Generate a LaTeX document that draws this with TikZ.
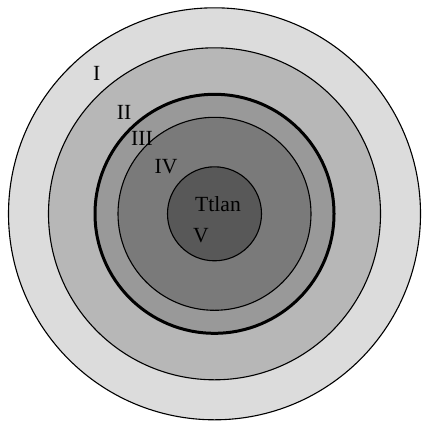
\documentclass[tikz,border=0pt]{standalone}
\usepackage{fontspec}
\setmainfont{Liberation Serif}
\begin{document}
\begin{tikzpicture}[x=1pt,y=-1pt,
  ring/.style={draw=black,line width=1.1pt},
  lbl/.style={anchor=base,inner sep=0pt,font=\fontsize{21.6}{26}\selectfont}]
\useasboundingbox (0,0) rectangle (422,421);
\coordinate (c) at (214.5,213.8);
\fill[white] (0,0) rectangle (422,421);
\draw[ring,fill={rgb,255:red,220;green,220;blue,220}] (c) circle[radius=206];
\draw[ring,fill={rgb,255:red,183;green,183;blue,183}] (c) circle[radius=166];
\draw[draw=black,line width=3pt,fill={rgb,255:red,153;green,153;blue,153}] (c) circle[radius=119.5];
\draw[ring,fill={rgb,255:red,122;green,122;blue,122}] (c) circle[radius=96.5];
\draw[ring,fill={rgb,255:red,88;green,88;blue,88}] (c) circle[radius=47];
\node[lbl] (l1) at (96.7,80) {I};
\node[lbl] (l2) at (124,119) {II};
\node[lbl] (l3) at (142,145.5) {III};
\node[lbl] (l4) at (166,173) {IV};
\node[lbl] (lt) at (218,211) {Ttlan};
\node[lbl] (l5) at (201,242.5) {V};
\end{tikzpicture}
\end{document}
